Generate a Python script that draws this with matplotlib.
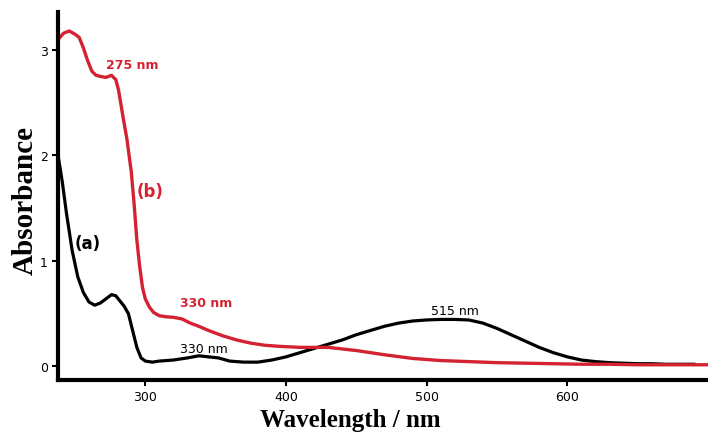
import matplotlib
matplotlib.use("Agg")
from matplotlib import pyplot as plt

# spectrum (a) - black
wl_a = [238, 241, 244, 248, 252, 256, 260, 264, 268, 272, 276, 279, 282, 285, 288,
        291, 294, 297, 300, 305, 310, 320, 330, 338, 345, 352, 360, 370, 380, 390,
        400, 410, 420, 430, 440, 450, 460, 470, 480, 490, 500, 510, 520, 530, 540,
        550, 560, 570, 580, 590, 600, 610, 620, 630, 640, 650, 660, 670, 680, 690]
abs_a = [2.0, 1.75, 1.45, 1.1, 0.85, 0.7, 0.61, 0.58, 0.6, 0.64, 0.68, 0.67, 0.62, 0.57, 0.5,
         0.34, 0.18, 0.08, 0.05, 0.04, 0.05, 0.06, 0.08, 0.10, 0.09, 0.08, 0.05, 0.04, 0.04, 0.06,
         0.09, 0.13, 0.17, 0.21, 0.25, 0.30, 0.34, 0.38, 0.41, 0.43, 0.44, 0.445, 0.445, 0.44, 0.41,
         0.36, 0.30, 0.24, 0.18, 0.13, 0.09, 0.06, 0.045, 0.035, 0.03, 0.025, 0.025, 0.02, 0.02, 0.02]

# spectrum (b) - red
wl_b = [238, 242, 246, 250, 253, 256, 259, 262, 265, 268, 272, 276, 279, 281, 284,
        287, 290, 292, 294, 296, 298, 300, 303, 306, 310, 315, 320, 326, 332, 338,
        345, 355, 365, 375, 385, 395, 410, 430, 450, 470, 490, 510, 530, 550, 570,
        590, 610, 630, 650, 670, 700]
abs_b = [3.1, 3.16, 3.18, 3.15, 3.12, 3.02, 2.9, 2.8, 2.76, 2.75, 2.74, 2.76, 2.72, 2.62, 2.38,
         2.15, 1.85, 1.55, 1.2, 0.95, 0.75, 0.64, 0.56, 0.51, 0.48, 0.47, 0.465, 0.45, 0.41, 0.38,
         0.34, 0.29, 0.25, 0.22, 0.2, 0.19, 0.18, 0.18, 0.15, 0.11, 0.075, 0.055, 0.045, 0.035, 0.03,
         0.025, 0.02, 0.02, 0.015, 0.015, 0.015]

x_ticks = [300, 400, 500, 600]
y_ticks = [0, 1, 2, 3]

RED = '#d42232'

fig = plt.figure(figsize=(7.08, 4.35), dpi=100)
ax = fig.add_axes([0.082, 0.124, 0.918, 0.846])

ax.plot(wl_a, abs_a, color='black', lw=2.3)
ax.plot(wl_b, abs_b, color=RED, lw=2.4)

ax.set_xlim(238, 700)
ax.set_ylim(-0.13, 3.36)
ax.set_xticks(x_ticks)
ax.set_yticks(y_ticks)

for s in ['top', 'right']:
    ax.spines[s].set_visible(False)
for s in ['left', 'bottom']:
    ax.spines[s].set_linewidth(3)
ax.tick_params(width=1.5, length=4, labelsize=9, color='black')

# axis titles placed by hand, like the original figure
fig.text(25 / 708, 0.54, 'Absorbance', family='Liberation Serif', fontweight='bold',
         fontsize=21, rotation=90, ha='center', va='center')
fig.text(350 / 708, 0.018, 'Wavelength / nm', family='Liberation Serif',
         fontweight='bold', fontsize=18, ha='center', va='baseline')

# peak annotations
ax.text(291, 2.83, '275 nm', color=RED, fontsize=9, fontweight='bold', ha='center')
ax.text(294, 1.62, '(b)', color=RED, fontsize=12, fontweight='bold')
ax.text(250, 1.12, '(a)', color='black', fontsize=12, fontweight='bold')
ax.text(325, 0.57, '330 nm', color=RED, fontsize=9, fontweight='bold')
ax.text(325, 0.14, '330 nm', color='black', fontsize=9)
ax.text(520, 0.50, '515 nm', color='black', fontsize=9, ha='center')

plt.savefig('out.png', dpi=100)
